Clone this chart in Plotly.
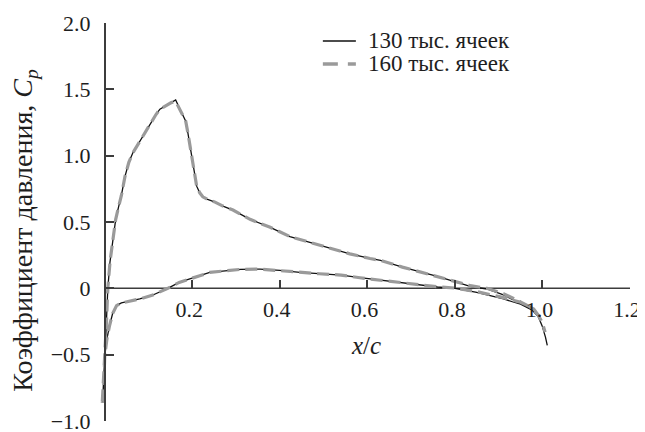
import plotly.graph_objects as go

# ---- data ----
# 130k cells: upper branch (from leading edge to trailing edge)
up130_x = [-0.005, 0.000, 0.004, 0.007, 0.012, 0.018, 0.025, 0.032, 0.038, 0.046, 0.055, 0.064, 0.075,
           0.087, 0.097, 0.107, 0.117, 0.126, 0.142, 0.152, 0.162, 0.172, 0.180, 0.185, 0.190, 0.195,
           0.202, 0.210, 0.217, 0.224, 0.235, 0.252, 0.270, 0.293, 0.332, 0.378, 0.423, 0.469, 0.515,
           0.560, 0.606, 0.630, 0.680, 0.760, 0.835, 0.873, 0.911, 0.942, 0.972, 0.990, 1.000, 1.007, 1.011]
up130_y = [-0.86, -0.55, -0.25, 0.00, 0.20, 0.35, 0.52, 0.62, 0.70, 0.84, 0.95, 1.02, 1.08,
           1.14, 1.20, 1.26, 1.31, 1.35, 1.38, 1.40, 1.42, 1.35, 1.30, 1.26, 1.17, 1.07,
           0.92, 0.77, 0.72, 0.69, 0.67, 0.65, 0.62, 0.59, 0.52, 0.46, 0.39, 0.345, 0.30,
           0.26, 0.225, 0.21, 0.16, 0.09, 0.015, -0.005, -0.05, -0.10, -0.15, -0.21, -0.29, -0.37, -0.43]
# 130k cells: lower branch (from leading edge to trailing edge)
lo130_x = [-0.005, -0.002, 0.000, 0.005, 0.011, 0.018, 0.027, 0.038, 0.050, 0.080, 0.110, 0.144,
           0.170, 0.195, 0.217, 0.240, 0.263, 0.310, 0.355, 0.400, 0.446, 0.490, 0.540, 0.583,
           0.606, 0.630, 0.680, 0.760, 0.800, 0.850, 0.911, 0.950, 0.980, 0.990]
lo130_y = [-0.86, -0.70, -0.51, -0.38, -0.28, -0.19, -0.13, -0.11, -0.10, -0.08, -0.05, 0.00,
           0.045, 0.07, 0.095, 0.12, 0.13, 0.143, 0.145, 0.135, 0.12, 0.11, 0.10, 0.08,
           0.07, 0.06, 0.04, 0.01, 0.00, -0.03, -0.08, -0.12, -0.17, -0.21]

# 160k cells
up160_x = [-0.006, 0.000, 0.004, 0.007, 0.012, 0.018, 0.025, 0.032, 0.038, 0.046, 0.055, 0.064, 0.075,
           0.087, 0.097, 0.107, 0.117, 0.126, 0.142, 0.152, 0.162, 0.172, 0.180, 0.185, 0.190, 0.195,
           0.202, 0.210, 0.217, 0.224, 0.235, 0.252, 0.270, 0.293, 0.332, 0.378, 0.423, 0.469, 0.515,
           0.560, 0.606, 0.630, 0.680, 0.760, 0.835, 0.873, 0.911, 0.942, 0.972, 0.990, 1.000, 1.006]
up160_y = [-0.88, -0.55, -0.25, 0.00, 0.20, 0.35, 0.52, 0.62, 0.70, 0.84, 0.95, 1.02, 1.08,
           1.14, 1.20, 1.26, 1.31, 1.35, 1.38, 1.40, 1.41, 1.35, 1.30, 1.26, 1.17, 1.07,
           0.92, 0.77, 0.72, 0.69, 0.67, 0.65, 0.62, 0.59, 0.52, 0.46, 0.39, 0.345, 0.30,
           0.26, 0.225, 0.21, 0.16, 0.09, 0.02, 0.00, -0.04, -0.09, -0.14, -0.20, -0.26, -0.33]
lo160_x = [-0.006, -0.002, 0.000, 0.005, 0.011, 0.018, 0.027, 0.038, 0.050, 0.080, 0.110, 0.144,
           0.170, 0.195, 0.217, 0.240, 0.263, 0.310, 0.355, 0.400, 0.446, 0.490, 0.540, 0.583,
           0.606, 0.630, 0.680, 0.760, 0.800, 0.850, 0.911, 0.950, 0.980, 0.990]
lo160_y = [-0.88, -0.70, -0.51, -0.38, -0.28, -0.19, -0.13, -0.11, -0.10, -0.08, -0.05, 0.00,
           0.045, 0.07, 0.095, 0.12, 0.13, 0.143, 0.145, 0.135, 0.12, 0.11, 0.10, 0.08,
           0.07, 0.06, 0.04, 0.012, 0.002, -0.025, -0.07, -0.105, -0.155, -0.20]

x_ticks = [0.2, 0.4, 0.6, 0.8, 1.0, 1.2]
x_ticktext = ["0.2", "0.4", "0.6", "0.8", "1.0", "1.2"]
y_ticks = [-1.0, -0.5, 0.0, 0.5, 1.0, 1.5, 2.0]
y_ticktext = ["\u22121.0", "\u22120.5", "0", "0.5", "1.0", "1.5", "2.0"]

names = ["130 тыс. ячеек", "160 тыс. ячеек"]
colors = ["#111111", "#9a9a9a"]

FONT = "Liberation Serif"
FS_TICK = 22
FS_LEG = 23
FS_YT = 28
FS_XT = 25
AX = "#3c3c3c"

W, H = 645, 432
OFF = 8  # page body margin offset of the html page
# plot area in window pixels (reference): left edge 96.25, right 630, top 23, bottom 421
PL, PR, PT, PB = 96.25, 630.0, 23.0, 421.0


def to_px(x):
    return (x - PL) / (PR - PL)


def to_py(y):
    return (PB - y) / (PB - PT)


def loop(ux, uy, lx, ly):
    # lower branch from trailing edge back to the leading edge, then upper branch to the trailing edge
    xs = list(reversed(lx)) + ux[1:]
    ys = list(reversed(ly)) + uy[1:]
    return xs, ys


fig = go.Figure()
x1, y1 = loop(up130_x, up130_y, lo130_x, lo130_y)
x2, y2 = loop(up160_x, up160_y, lo160_x, lo160_y)
fig.add_trace(go.Scatter(x=x1, y=y1, mode="lines", name=names[0], showlegend=False,
                         line=dict(color=colors[0], width=1.3)))
fig.add_trace(go.Scatter(x=x2, y=y2, mode="lines", name=names[1], showlegend=False,
                         line=dict(color=colors[1], width=3.2, dash="12px,6px")))

# x axis line from 0 to 1.2 at y = 0
fig.add_shape(type="line", x0=0, x1=1.2, y0=0, y1=0, xref="x", yref="y",
              line=dict(color=AX, width=1.5), layer="below")

# legend (drawn by hand to match the compact spacing)
leg_rows = [41, 64]
fig.add_shape(type="line", xref="paper", yref="paper", x0=to_px(323), x1=to_px(356),
              y0=to_py(leg_rows[0]), y1=to_py(leg_rows[0]), line=dict(color=colors[0], width=1.5))
fig.add_shape(type="line", xref="paper", yref="paper", x0=to_px(323), x1=to_px(356),
              y0=to_py(leg_rows[1]), y1=to_py(leg_rows[1]),
              line=dict(color=colors[1], width=3.5, dash="15px,10px"))

annos = []
for name, r in zip(names, leg_rows):
    annos.append(dict(text=name, x=to_px(366), y=to_py(r), xref="paper", yref="paper",
                      xanchor="left", yanchor="middle", showarrow=False,
                      font=dict(family=FONT, size=FS_LEG)))
annos.append(dict(text="<i>x</i>/<i>c</i>", x=to_px(366), y=to_py(345), xref="paper", yref="paper",
                  showarrow=False, font=dict(family=FONT, size=FS_XT),
                  xanchor="center", yanchor="middle"))
annos.append(dict(text="Коэффициент давления, <i>C<sub>p</sub></i>", x=to_px(24), y=to_py(230),
                  xref="paper", yref="paper", textangle=-90, showarrow=False,
                  font=dict(family=FONT, size=FS_YT),
                  xanchor="center", yanchor="middle"))

xr = [-0.02, 1.2]
fig.update_layout(
    template="none",
    width=W, height=H,
    margin=dict(l=PL - OFF, r=W - (PR - OFF), t=PT - OFF, b=H - (PB - OFF), autoexpand=False),
    paper_bgcolor="white", plot_bgcolor="white",
    font=dict(family=FONT, size=FS_TICK, color="#1e1e1e"),
    showlegend=False,
    xaxis=dict(range=xr, showgrid=False, zeroline=False, showline=False,
               anchor="free", position=1/3,
               tickvals=x_ticks, ticktext=x_ticktext, ticks="inside", ticklen=8,
               tickfont=dict(family=FONT, size=FS_TICK),
               tickcolor=AX, tickwidth=1.5, ticklabelstandoff=6, ticklabelshift=-3,
               ticklabeloverflow="allow"),
    yaxis=dict(range=[-1, 2], showgrid=False, zeroline=False, showline=True,
               linecolor=AX, linewidth=1.5,
               anchor="free", position=(0 - xr[0]) / (xr[1] - xr[0]),
               tickvals=y_ticks, ticktext=y_ticktext, ticks="inside", ticklen=8,
               tickfont=dict(family=FONT, size=FS_TICK),
               tickcolor=AX, tickwidth=1.5, ticklabelstandoff=9, ticklabeloverflow="allow"),
    annotations=annos,
)

fig.write_html("out.html")
